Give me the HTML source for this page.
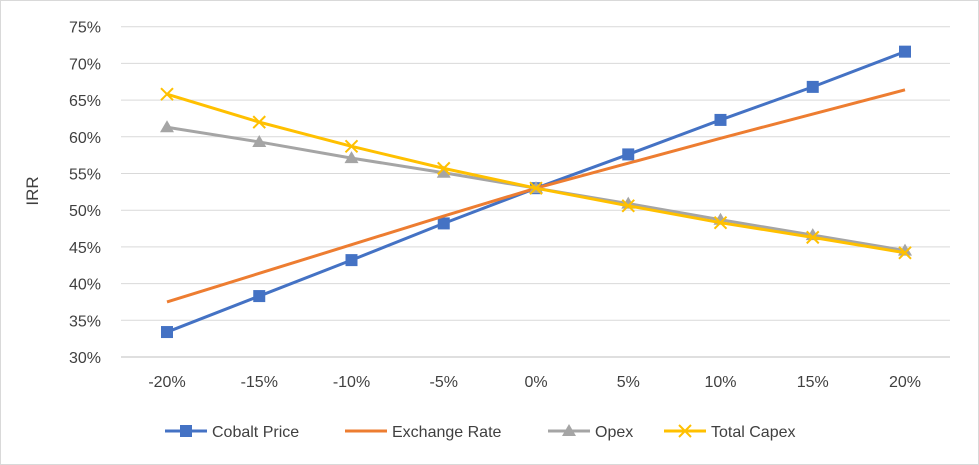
<!DOCTYPE html>
<html><head><meta charset="utf-8"><style>
body{margin:0;background:#fff}
svg{display:block;font-family:"Liberation Sans",sans-serif}
</style></head><body>
<svg width="979" height="465">
<rect x="0.5" y="0.5" width="978" height="464" fill="#fff" stroke="#d9d9d9"/>
<g id="grid"></g><g id="series"></g><g id="legend"></g>
<text x="38" y="191" transform="rotate(-90 38 191)" text-anchor="middle" font-size="17" fill="#404040">IRR</text>
</svg>
<script>
const categories=["-20%","-15%","-10%","-5%","0%","5%","10%","15%","20%"];
const yTicks=[30,35,40,45,50,55,60,65,70,75];
const cobalt=[33.4,38.3,43.2,48.2,53,57.6,62.3,66.8,71.6];
const exchange=[37.5,41.4,45.3,49.2,53,56.4,59.8,63.1,66.4];
const opex=[61.3,59.3,57.1,55.1,53,50.9,48.7,46.6,44.5];
const capex=[65.8,62,58.7,55.7,53,50.6,48.3,46.3,44.2];
const NS="http://www.w3.org/2000/svg";
const x=i=>167+i*92.25, y=v=>357-(v-30)*7.34;
function mk(t,a,p){const e=document.createElementNS(NS,t);for(const k in a)e.setAttribute(k,a[k]);p.appendChild(e);return e;}
const g=document.getElementById('grid');
yTicks.forEach(v=>{const l=mk('line',{x1:121,x2:950,y1:y(v),y2:y(v),stroke:v==30?'#bfbfbf':'#d9d9d9'},g);

const t=mk('text',{x:101,y:y(v)+6,'text-anchor':'end','font-size':16,fill:'#404040'},g);t.textContent=v+'%';
});
categories.forEach((c,i)=>{const t=mk('text',{x:x(i),y:387,'text-anchor':'middle','font-size':16,fill:'#404040'},g);t.textContent=c;
});
const S=document.getElementById('series');
function marker(type,cx,cy,col,p){
 if(type=='sq')return mk('rect',{x:cx-6,y:cy-6,width:12,height:12,fill:col},p);
 if(type=='tri')return mk('polygon',{points:`${cx},${cy-7} ${cx+7},${cy+5} ${cx-7},${cy+5}`,fill:col},p);
 if(type=='x')return mk('path',{d:`M${cx-6} ${cy-6}L${cx+6} ${cy+6}M${cx+6} ${cy-6}L${cx-6} ${cy+6}`,stroke:col,'stroke-width':2},p);
 return null;}
const series=[["cobalt-price",cobalt,'#4472c4','sq'],["exchange-rate",exchange,'#ed7d31',null],["opex",opex,'#a5a5a5','tri'],["total-capex",capex,'#ffc000','x']];
series.forEach(([n,d,c,m])=>{const gg=mk('g',{},S);
 const pl=mk('polyline',{points:d.map((v,i)=>x(i)+','+y(v)).join(' '),fill:'none',stroke:c,'stroke-width':3,'stroke-linejoin':'round'},gg);
 
 if(m)d.forEach((v,i)=>{const e=marker(m,x(i),y(v),c,gg);});});
const L=document.getElementById('legend');
const leg=[["Cobalt Price",165],["Exchange Rate",345],["Opex",548],["Total Capex",664]];
leg.forEach(([lab,lx],i)=>{const [n,,c,m]=series[i];const gg=mk('g',{},L);
 mk('line',{x1:lx,x2:lx+42,y1:431,y2:431,stroke:c,'stroke-width':3},gg);
 if(m)marker(m,lx+21,431,c,gg);
 const t=mk('text',{x:lx+47,y:437,'font-size':16,fill:'#404040'},gg);t.textContent=lab;});
</script>
</body></html>
